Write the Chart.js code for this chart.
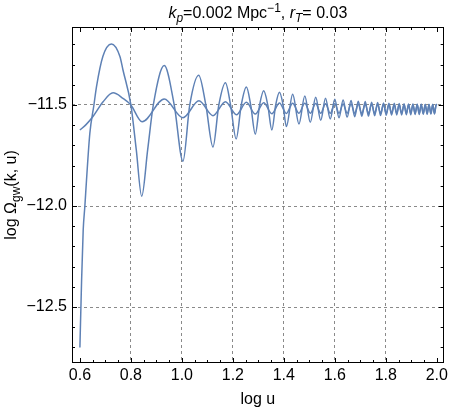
<!DOCTYPE html>
<html>
<head>
<meta charset="utf-8" />
<title>log Omega_gw vs log u</title>
<script src="https://cdn.jsdelivr.net/npm/chart.js@4.4.1/dist/chart.umd.min.js"></script>
<style>
	body { margin: 0; background: #fff; }
</style>
</head>
<body>
<canvas id="myChart" width="451" height="409"></canvas>
<script>
// tick labels
const xTicks = [0.6, 0.8, 1.0, 1.2, 1.4, 1.6, 1.8, 2.0];
const yTicks = [-12.5, -12.0, -11.5];

// big oscillating curve
const logU_big = [
	0.6, 0.6066, 0.6129, 0.6195, 0.626, 0.639, 0.655, 0.665, 0.69, 0.7235,
	0.757, 0.769, 0.8, 0.821, 0.8425, 0.866, 0.888, 0.931, 0.970, 1.0043,
	1.031, 1.066, 1.094, 1.122, 1.145, 1.171, 1.191, 1.213, 1.233, 1.253,
	1.270, 1.288, 1.305, 1.321, 1.337, 1.353, 1.368, 1.383, 1.397, 1.41,
	1.4346, 1.4594, 1.4822, 1.5038, 1.525, 1.5447, 1.5635, 1.5821, 1.5999, 1.6165,
	1.6325, 1.6484, 1.6637, 1.6781, 1.692, 1.7059, 1.7193, 1.732, 1.7443, 1.7563,
	1.7679, 1.7796, 1.791, 1.8017, 1.8122, 1.8228, 1.8331, 1.8429, 1.8525, 1.8621,
	1.8716, 1.8805, 1.8893, 1.8979, 1.9063, 1.9149, 1.9232, 1.9312, 1.939, 1.9469,
	1.9547, 1.9622, 1.9694, 1.9768, 1.9841, 1.991, 1.9978, 2.0
];
const logOmega_big = [
	-12.70, -12.37, -12.12, -12.0, -11.87, -11.64, -11.5, -11.41, -11.26, -11.198,
	-11.26, -11.327, -11.5, -11.72, -11.952, -11.72, -11.5, -11.305, -11.5, -11.778,
	-11.5, -11.353, -11.5, -11.708, -11.5, -11.39, -11.5, -11.668, -11.5, -11.411,
	-11.5, -11.644, -11.5, -11.43, -11.5, -11.624, -11.5, -11.437, -11.5, -11.607,
	-11.447, -11.594, -11.455, -11.585, -11.462, -11.576, -11.467, -11.569, -11.472, -11.563,
	-11.475, -11.560, -11.478, -11.558, -11.481, -11.556, -11.483, -11.555, -11.486, -11.553,
	-11.488, -11.552, -11.490, -11.551, -11.491, -11.550, -11.492, -11.549, -11.493, -11.549,
	-11.494, -11.548, -11.495, -11.548, -11.495, -11.547, -11.496, -11.547, -11.496, -11.546,
	-11.497, -11.546, -11.497, -11.545, -11.498, -11.545, -11.498, -11.500
];

// small oscillating curve
const logU_small = [
	0.6, 0.625, 0.652, 0.691, 0.73, 0.769, 0.8, 0.844, 0.931, 1.0043,
	1.067, 1.122, 1.171, 1.214, 1.253, 1.288, 1.321, 1.353, 1.383, 1.41,
	1.4346, 1.4594, 1.4822, 1.5038, 1.525, 1.5447, 1.5635, 1.5821, 1.5999, 1.6165,
	1.6325, 1.6484, 1.6637, 1.6781, 1.692, 1.7059, 1.7193, 1.732, 1.7443, 1.7563,
	1.7679, 1.7796, 1.791, 1.8017, 1.8122, 1.8228, 1.8331, 1.8429, 1.8525, 1.8621,
	1.8716, 1.8805, 1.8893, 1.8979, 1.9063, 1.9149, 1.9232, 1.9312, 1.939, 1.9469,
	1.9547, 1.9622, 1.9694, 1.9768, 1.9841, 1.991, 1.9978, 2.0
];
const logOmega_small = [
	-11.624, -11.596, -11.556, -11.484, -11.44, -11.467, -11.5, -11.583, -11.47, -11.563,
	-11.479, -11.553, -11.484, -11.548, -11.487, -11.545, -11.489, -11.543, -11.49, -11.542,
	-11.491, -11.541, -11.492, -11.541, -11.493, -11.541, -11.494, -11.541, -11.494, -11.541,
	-11.495, -11.541, -11.495, -11.541, -11.496, -11.542, -11.496, -11.542, -11.496, -11.542,
	-11.496, -11.542, -11.496, -11.542, -11.496, -11.542, -11.497, -11.542, -11.497, -11.542,
	-11.497, -11.542, -11.497, -11.542, -11.497, -11.542, -11.497, -11.542, -11.497, -11.542,
	-11.497, -11.542, -11.497, -11.542, -11.497, -11.542, -11.497, -11.5
];

const FONT = '"Liberation Sans", Arial, sans-serif';
const LINE = "#5e81b5";
const SIZE = 16;

function toPts(xs, ys) {
	return xs.map((v, i) => ({ x: v, y: ys[i] }));
}

// draw a line of text with italic / sub / sup pieces, centred on x
function richText(ctx, parts, x, y, size) {
	const fontOf = (p) =>
		(p.it ? "italic " : "") + (p.sub || p.sup ? Math.round(size * 0.72) : size) + "px " + FONT;
	let w = 0;
	parts.forEach((p) => {
		ctx.font = fontOf(p);
		w += ctx.measureText(p.t).width;
	});
	let cx = x - w / 2;
	parts.forEach((p) => {
		ctx.font = fontOf(p);
		const dy = p.sub ? size * 0.28 : p.sup ? -size * 0.38 : 0;
		ctx.fillText(p.t, cx, y + dy);
		cx += ctx.measureText(p.t).width;
	});
}

const framePlugin = {
	id: "frame",
	afterDraw(chart) {
		const { ctx, chartArea: a, scales } = chart;
		const xs = scales.x, ys = scales.y;
		ctx.save();
		ctx.strokeStyle = "#000";
		ctx.lineWidth = 1;
		ctx.strokeRect(Math.round(a.left) + 0.5, Math.round(a.top) + 0.5,
			Math.round(a.right - a.left) - 1, Math.round(a.bottom - a.top) - 1);
		ctx.beginPath();
		// x ticks every 0.05, majors every 0.2
		for (let i = 0; i <= 28; i++) {
			const v = 0.6 + i * 0.05;
			const px = Math.round(xs.getPixelForValue(v)) + 0.5;
			const len = i % 4 === 0 ? 5 : 3;
			ctx.moveTo(px, a.bottom);
			ctx.lineTo(px, a.bottom - len);
			ctx.moveTo(px, a.top);
			ctx.lineTo(px, a.top + len);
		}
		// y ticks every 0.1, majors every 0.5
		for (let i = 0; i <= 15; i++) {
			const v = -12.7 + i * 0.1;
			const py = Math.round(ys.getPixelForValue(v)) + 0.5;
			const len = (i - 2) % 5 === 0 ? 5 : 3;
			ctx.moveTo(a.left, py);
			ctx.lineTo(a.left + len, py);
			ctx.moveTo(a.right, py);
			ctx.lineTo(a.right - len, py);
		}
		ctx.stroke();

		ctx.fillStyle = "#000";
		ctx.textBaseline = "alphabetic";
		const cxm = (a.left + a.right) / 2;
		// title
		richText(ctx, [
			{ t: "k", it: true }, { t: "p", it: true, sub: true },
			{ t: "=0.002 Mpc" }, { t: "\u22121", sup: true },
			{ t: ", " }, { t: "r", it: true }, { t: "T", it: true, sub: true },
			{ t: "= 0.03" }
		], cxm, 18, SIZE);
		// x axis title
		richText(ctx, [{ t: "log u" }], cxm, 404, SIZE);
		// y axis title
		ctx.translate(16, (a.top + a.bottom) / 2);
		ctx.rotate(-Math.PI / 2);
		richText(ctx, [
			{ t: "log \u03a9" }, { t: "gw", sub: true }, { t: "(k, u)" }
		], 0, 0, SIZE);
		ctx.restore();
	}
};

const fmt = (v) => v.toFixed(1).replace("-", "\u2212");
const gridColor = (vals) => (c) => {
	const v = c.tick ? c.tick.value : NaN;
	return vals.some((t) => Math.abs(t - v) < 1e-6) ? "rgba(0,0,0,0)" : "#8a8a8a";
};

new Chart(document.getElementById("myChart").getContext("2d"), {
	type: "line",
	data: {
		datasets: [
			{
				data: toPts(logU_big, logOmega_big),
				borderColor: LINE,
				borderWidth: 1.5,
				pointRadius: 0,
				cubicInterpolationMode: "monotone",
				fill: false,
			},
			{
				data: toPts(logU_small, logOmega_small),
				borderColor: LINE,
				borderWidth: 1.5,
				pointRadius: 0,
				cubicInterpolationMode: "monotone",
				fill: false,
			},
		],
	},
	options: {
		responsive: false,
		animation: false,
		layout: { padding: { top: 27, right: 5, left: 0, bottom: 0 } },
		plugins: {
			legend: { display: false },
			tooltip: { enabled: false },
		},
		scales: {
			x: {
				type: "linear",
				min: 0.569,
				max: 2.027,
				afterBuildTicks: (s) => { s.ticks = xTicks.map((v) => ({ value: v })); },
				afterFit: (s) => { s.height = 46; },
				ticks: {
					callback: fmt,
					color: "#000",
					font: { family: FONT, size: SIZE },
					padding: 3,
					maxRotation: 0,
					autoSkip: false,
				},
				grid: {
					drawTicks: false,
					color: gridColor([0.6, 2.0]),
					lineWidth: 1,
				},
				border: { display: false, dash: [3, 3] },
			},
			y: {
				type: "linear",
				min: -12.777,
				max: -11.114,
				afterBuildTicks: (s) => { s.ticks = yTicks.map((v) => ({ value: v })); },
				afterFit: (s) => { s.width = 72; },
				ticks: {
					callback: fmt,
					color: "#000",
					font: { family: FONT, size: SIZE },
					padding: 5,
					autoSkip: false,
				},
				grid: {
					drawTicks: false,
					color: "#8a8a8a",
					lineWidth: 1,
				},
				border: { display: false, dash: [3, 3] },
			},
		},
	},
	plugins: [framePlugin],
});
</script>
</body>
</html>
